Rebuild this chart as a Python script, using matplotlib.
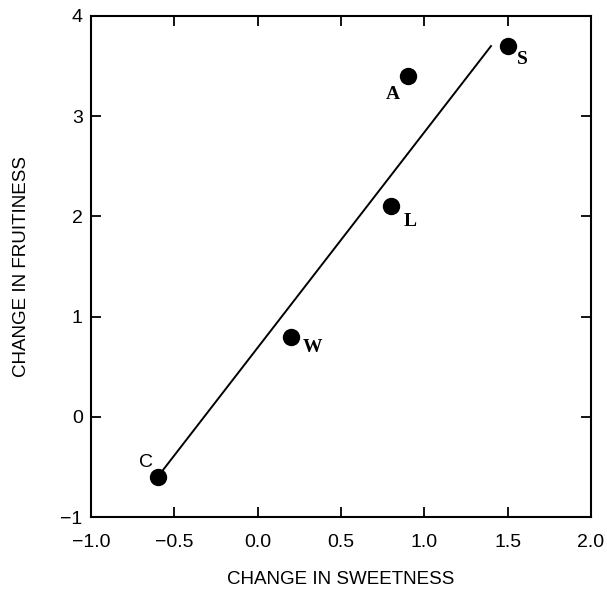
import matplotlib
matplotlib.use("Agg")
import matplotlib.pyplot as plt

# Data
labels = ["C", "W", "L", "A", "S"]
sweetness = [-0.6, 0.2, 0.8, 0.9, 1.5]
fruitiness = [-0.6, 0.8, 2.1, 3.4, 3.7]
fit_x = [-0.6, 1.4]
fit_y = [-0.6, 3.7]
xticks = [-1.0, -0.5, 0.0, 0.5, 1.0, 1.5, 2.0]
xtick_labels = ["\u22121.0", "\u22120.5", "0.0", "0.5", "1.0", "1.5", "2.0"]
yticks = [-1, 0, 1, 2, 3, 4]
ytick_labels = ["\u22121", "0", "1", "2", "3", "4"]

# label offsets in pixels (dx, dy) relative to the point
offsets = {"C": (-12, 14), "W": (21, -11), "L": (19, -15), "A": (-15, -18), "S": (15, -13)}
label_font = {"C": ("Liberation Sans", "normal"), "W": ("Liberation Serif", "bold"),
              "L": ("Liberation Serif", "bold"), "A": ("Liberation Serif", "bold"),
              "S": ("Liberation Serif", "bold")}

plt.rcParams['font.family'] = ['Liberation Sans', 'DejaVu Sans']

fig = plt.figure(figsize=(6.07, 5.89), dpi=100)
ax = fig.add_axes([91/607, 1-517/589, 500/607, 501/589])

ax.plot(fit_x, fit_y, color="black", lw=1.4, zorder=2)
ax.plot(sweetness, fruitiness, "o", color="black", markersize=11.5, zorder=3)

for lab, x, y in zip(labels, sweetness, fruitiness):
    dx, dy = offsets[lab]
    fam, wt = label_font[lab]
    ax.annotate(lab, (x, y), xytext=(dx * 0.72, dy * 0.72), textcoords="offset points",
                ha="center", va="center", fontsize=14, family=fam, fontweight=wt)

ax.set_xlim(-1.0, 2.0)
ax.set_ylim(-1, 4)
ax.set_xticks(xticks)
ax.set_xticklabels(xtick_labels)
ax.set_yticks(yticks)
ax.set_yticklabels(ytick_labels)
ax.tick_params(direction="in", length=7, width=1.3, top=True, right=True,
               labelsize=14)
ax.tick_params(axis="x", pad=12)
ax.tick_params(axis="y", pad=6)
for s in ax.spines.values():
    s.set_linewidth(1.5)

ax.set_xlabel("CHANGE IN SWEETNESS", fontsize=13.5, labelpad=15)
ax.set_ylabel("CHANGE IN FRUITINESS", fontsize=13.5, labelpad=22)

fig.savefig("out.png", dpi=100)
